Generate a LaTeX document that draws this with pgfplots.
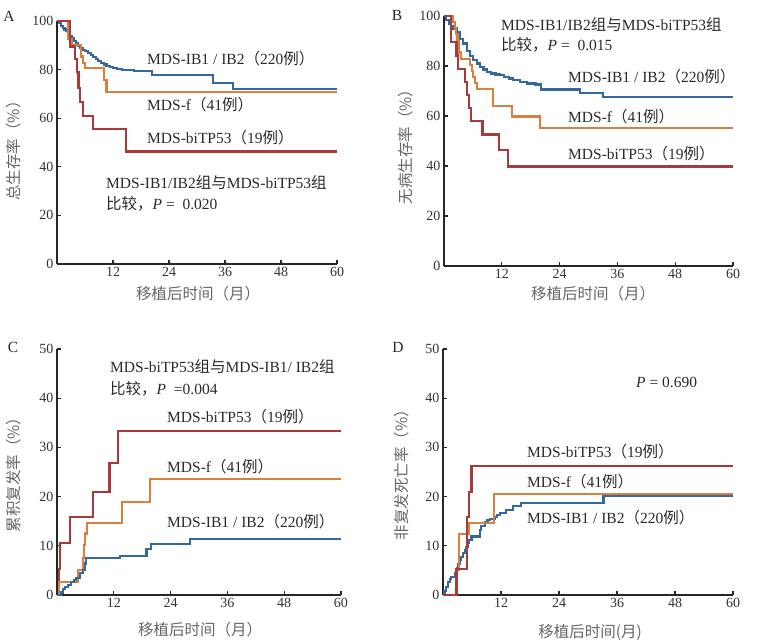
\documentclass[border=0pt]{standalone}
\usepackage{pgfplots}
\pgfplotsset{compat=1.18}
\usepackage{fontspec}
\setmainfont{Liberation Serif}
\newfontfamily\cjk{Noto Sans CJK SC}
\definecolor{kmblue}{HTML}{3468A0}
\definecolor{kmorange}{HTML}{D9803F}
\definecolor{kmred}{HTML}{A83A3C}
\definecolor{labgray}{HTML}{666666}
\definecolor{txt}{HTML}{2A2A2A}
\newcommand{\zh}[1]{{\cjk #1}}
\newcommand{\ann}{\fontsize{15.5bp}{18bp}\selectfont}
\pgfplotsset{
  kmaxis/.style={
    scale only axis, anchor=south west,
    axis lines=left,
    axis line style={-, line width=1.6bp, black!85},
    xmin=0, xmax=60, ymin=0,
    xtick={12,24,36,48,60},
    tick align=inside, major tick length=4bp,
    tick style={line width=1.1bp, black!85},
    ticklabel style={font=\fontsize{14bp}{16bp}\selectfont, text=black!80},
    /pgf/number format/assume math mode=true,
    clip=false,
  },
  kmline/.style={const plot, line width=2.1bp, no marks, line join=miter},
}
\begin{document}
\begin{tikzpicture}
\path[use as bounding box] (0,0) rectangle (758bp,-642bp);

% ---------------- A ----------------
\begin{axis}[kmaxis, at={(57bp,-264bp)}, width=280bp, height=243bp, ymax=100, ytick={0,20,...,100}]
\addplot[kmline, kmblue] coordinates {(0,100)(0.4,99)(0.8,98)(1.2,97.3)(1.6,96.5)(2,95.8)(2.4,95)(2.8,93.8)(3.2,92.8)(3.6,91.8)(4,90.8)(4.5,89.8)(5,88.9)(5.5,88.2)(6,87.5)(6.6,86.8)(7.2,86)(7.8,85.2)(8.3,84.3)(8.8,83.5)(9.4,82.8)(10,82.1)(10.6,81.6)(11.3,81)(12,80.6)(12.8,80.2)(14,79.9)(16.5,79.5)(20.3,77.6)(33.5,74.6)(37.7,71.9)(60,71.9)};
\addplot[kmline, kmorange] coordinates {(0,100)(2.4,92.7)(3.2,90.2)(5.2,85.4)(5.6,82.9)(6.0,80.5)(10.1,75.6)(10.6,70.8)(60,70.8)};
\addplot[kmline, kmred] coordinates {(0,100)(2.8,89.5)(3.9,84.2)(4.3,78.9)(4.6,72.5)(4.9,66.5)(5.5,61)(7.8,55.6)(14.8,46.3)(60,46.3)};
\end{axis}

% ---------------- B ----------------
\begin{axis}[kmaxis, at={(444bp,-266bp)}, width=289bp, height=250bp, ymax=100, ytick={0,20,...,100}]
\addplot[kmline, kmblue] coordinates {(0,100)(0.5,98.5)(1,97)(1.5,95.8)(1.9,95)(2.6,93.5)(3.3,90.8)(3.9,89)(4.7,85.9)(5.4,84)(6.1,82.4)(6.8,81)(7.5,79.7)(8.2,78.6)(8.9,77.6)(9.8,77)(10.7,76.6)(11.6,76.3)(12.5,75.6)(13.5,75)(14.4,74.4)(15.7,73.6)(17.2,73)(19,72.6)(20.2,70.6)(28.2,69.2)(33.1,67.6)(60,67.6)};
\addplot[kmline, kmorange] coordinates {(0,100)(1.8,97.6)(2.2,95.1)(2.5,92.7)(2.8,90.2)(3.2,85.4)(3.5,82.9)(5.4,80.5)(5.8,78)(6.1,75.6)(6.5,73.2)(6.8,70.7)(10.2,63.9)(14.1,59.8)(19.9,55.1)(60,55.1)};
\addplot[kmline, kmred] coordinates {(0,100)(1.4,89.5)(2.6,84.2)(2.9,78.9)(4.4,73.7)(4.8,68.4)(5.2,63.2)(5.6,57.9)(8.0,52.6)(11.4,46.4)(13.3,39.8)(60,39.8)};
\end{axis}

% ---------------- C ----------------
\begin{axis}[kmaxis, at={(57bp,-595bp)}, width=284bp, height=246bp, ymax=50, ytick={0,10,...,50}]
\addplot[kmline, kmred] coordinates {(0,0)(0.4,5.3)(0.7,10.5)(2.7,15.8)(7.6,21)(11.1,26.8)(12.9,33.3)(60,33.3)};
\addplot[kmline, kmorange] coordinates {(0,0)(0.4,2.6)(4.4,5.1)(5.4,7.6)(5.7,10.1)(6.0,12.5)(6.4,14.6)(13.8,18.9)(19.6,23.5)(60,23.5)};
\addplot[kmline, kmblue] coordinates {(0,0)(0.8,0.5)(1.2,1.2)(1.6,1.7)(2.3,2.0)(3.0,2.6)(3.5,3.1)(4.1,3.4)(4.8,4.4)(5.5,5.1)(5.9,6.4)(6.2,7.5)(13.3,8.0)(18.9,9.3)(19.8,10.4)(28.1,11.4)(60,11.4)};
\end{axis}

% ---------------- D ----------------
\begin{axis}[kmaxis, at={(443bp,-595bp)}, width=290bp, height=246bp, ymax=50, ytick={0,10,...,50}]
\addplot[kmline, kmblue] coordinates {(0,0)(0.3,0.8)(0.55,1.7)(1.0,2.7)(1.4,3.3)(1.7,3.7)(2.4,4.4)(2.9,5.4)(3.2,6.3)(3.5,7.1)(3.8,7.8)(4.1,8.5)(4.5,9.2)(4.8,9.8)(5.1,10.5)(5.4,11.2)(5.9,11.9)(7.6,13.2)(7.9,14.0)(8.6,14.9)(9.2,15.2)(9.7,15.4)(10.7,15.9)(11.2,16.3)(11.7,16.6)(13.1,17.3)(14.5,18.0)(16.2,18.7)(33.2,20.2)(60,20.2)};
\addplot[kmline, kmorange] coordinates {(0,0)(2.7,2.5)(2.8,5.0)(3.3,12.4)(5.4,14.7)(10.6,20.6)(60,20.6)};
\addplot[kmline, kmred] coordinates {(0,0)(2.8,5.3)(4.9,10.5)(5.0,15.8)(5.4,21)(5.9,26.3)(60,26.3)};
\end{axis}

% ---------------- texts ----------------
\begin{scope}[every node/.style={inner sep=0pt, text=txt, font=\ann}]
% panel letters
\node at (9bp,-16bp) {A};
\node at (397bp,-15bp) {B};
\node at (13bp,-347bp) {C};
\node at (398bp,-347bp) {D};
% axis labels
\node[text=labgray, rotate=90] at (14bp,-147bp) {\zh{总生存率（\%）}};
\node[text=labgray] at (198bp,-294bp) {\zh{移植后时间（月）}};
\node[text=labgray, rotate=90] at (406bp,-143bp) {\zh{无病生存率（\%）}};
\node[text=labgray] at (593bp,-294bp) {\zh{移植后时间（月）}};
\node[text=labgray, rotate=90] at (14bp,-471bp) {\zh{累积复发率（\%）}};
\node[text=labgray] at (200bp,-630bp) {\zh{移植后时间（月）}};
\node[text=labgray, rotate=90] at (402bp,-471bp) {\zh{非复发死亡率（\%）}};
\node[text=labgray] at (590bp,-632bp) {\zh{移植后时间(月)}};
% A
\node[anchor=west] at (147bp,-59bp) {MDS-IB1 / IB2\zh{（}220\zh{例）}};
\node[anchor=west] at (147bp,-105bp) {MDS-f\zh{（}41\zh{例）}};
\node[anchor=west] at (147bp,-138bp) {MDS-biTP53\zh{（}19\zh{例）}};
\node[anchor=west] at (106bp,-183bp) {MDS-IB1/IB2\zh{组与}MDS-biTP53\zh{组}};
\node[anchor=west] at (106bp,-204bp) {\zh{比较，}\textit{P} = \ 0.020};
% B
\node[anchor=west] at (501bp,-25bp) {MDS-IB1/IB2\zh{组与}MDS-biTP53\zh{组}};
\node[anchor=west] at (501bp,-45bp) {\zh{比较，}\textit{P} = \ 0.015};
\node[anchor=west] at (568bp,-77bp) {MDS-IB1 / IB2\zh{（}220\zh{例）}};
\node[anchor=west] at (568bp,-117bp) {MDS-f\zh{（}41\zh{例）}};
\node[anchor=west] at (568bp,-154bp) {MDS-biTP53\zh{（}19\zh{例）}};
% C
\node[anchor=west] at (110bp,-367bp) {MDS-biTP53\zh{组与}MDS-IB1/ IB2\zh{组}};
\node[anchor=west] at (110bp,-389bp) {\zh{比较，}\textit{P} \ =0.004};
\node[anchor=west] at (167bp,-417bp) {MDS-biTP53\zh{（}19\zh{例）}};
\node[anchor=west] at (167bp,-467bp) {MDS-f\zh{（}41\zh{例）}};
\node[anchor=west] at (167bp,-522bp) {MDS-IB1 / IB2\zh{（}220\zh{例）}};
% D
\node[anchor=west] at (636bp,-382bp) {\textit{P} = 0.690};
\node[anchor=west] at (527bp,-452bp) {MDS-biTP53\zh{（}19\zh{例）}};
\node[anchor=west] at (527bp,-482bp) {MDS-f\zh{（}41\zh{例）}};
\node[anchor=west] at (527bp,-518bp) {MDS-IB1 / IB2\zh{（}220\zh{例）}};
\end{scope}
\end{tikzpicture}
\end{document}
